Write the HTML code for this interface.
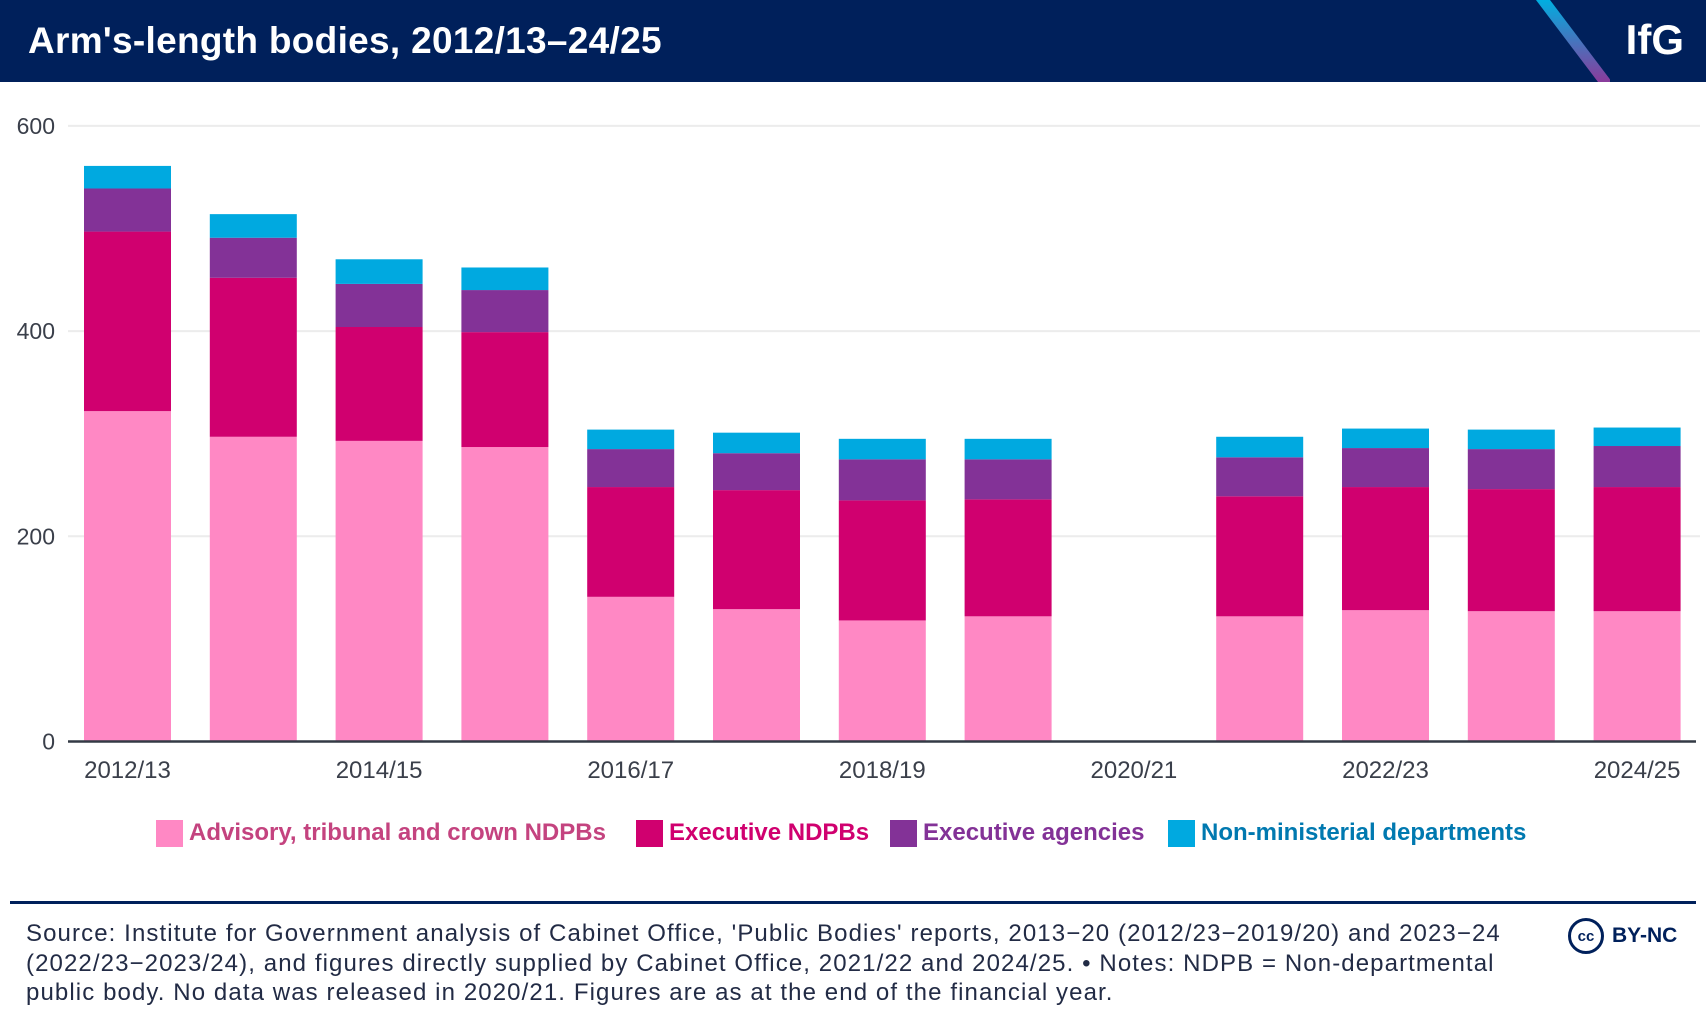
<!DOCTYPE html>
<html><head><meta charset="utf-8"><style>
body{margin:0;width:1706px;height:1024px;background:#fff;font-family:"Liberation Sans",sans-serif;overflow:hidden;position:relative}
.hdr{position:absolute;left:0;top:0;width:1706px;height:82px;background:#00205b}
.title{position:absolute;left:28px;top:20px;color:#fff;font-weight:bold;font-size:37px;letter-spacing:0.3px}
.logo{position:absolute;right:22px;top:16px;color:#fff;font-weight:bold;font-size:42px}
.sep{position:absolute;left:10px;top:901px;width:1686px;height:3px;background:#00205b}
.foot{position:absolute;left:26px;top:919px;font-size:24px;letter-spacing:1.1px;line-height:29.5px;color:#222b45;white-space:nowrap}
.lg{position:absolute;top:819px;height:28px;display:flex;align-items:center;font-weight:bold;font-size:24px}
.sw{width:27px;height:27px;margin-right:6px}
</style></head><body>
<div class="hdr"></div>
<div class="title">Arm's-length bodies, 2012/13–24/25</div>
<svg style="position:absolute;left:1530px;top:0" width="80" height="82"><defs><linearGradient id="g" x1="0" y1="0" x2="0" y2="1"><stop offset="0" stop-color="#00aee0"/><stop offset="1" stop-color="#8a3b9b"/></linearGradient></defs><polygon points="6,0 20,0 82,82 68,82" fill="url(#g)"/></svg>
<div class="logo">IfG</div>
<svg id="chart" style="position:absolute;left:0;top:0" width="1706" height="800"></svg>
<div class="lg" style="left:156px"><div class="sw" style="background:#ff88c4"></div><span style="color:#c4437f">Advisory, tribunal and crown NDPBs</span></div>
<div class="lg" style="left:636px"><div class="sw" style="background:#d0006f"></div><span style="color:#d0006f">Executive NDPBs</span></div>
<div class="lg" style="left:890px"><div class="sw" style="background:#833297"></div><span style="color:#833297">Executive agencies</span></div>
<div class="lg" style="left:1168px"><div class="sw" style="background:#00a9e0"></div><span style="color:#0079b0">Non-ministerial departments</span></div>
<div class="sep"></div>
<div class="foot">Source: Institute for Government analysis of Cabinet Office, 'Public Bodies' reports, 2013−20 (2012/23−2019/20) and 2023−24<br>(2022/23−2023/24), and figures directly supplied by Cabinet Office, 2021/22 and 2024/25. • Notes: NDPB = Non-departmental<br>public body. No data was released in 2020/21. Figures are as at the end of the financial year.</div>
<div style="position:absolute;left:1568px;top:918px;display:flex;align-items:center;gap:8px"><div style="width:36px;height:36px;border:3px solid #00205b;border-radius:50%;box-sizing:border-box;font-weight:bold;font-size:15px;color:#00205b;display:flex;align-items:center;justify-content:center">cc</div><span style="font-weight:bold;font-size:21px;color:#00205b">BY-NC</span></div>
<script>
const categories=["2012/13","2013/14","2014/15","2015/16","2016/17","2017/18","2018/19","2019/20","2020/21","2021/22","2022/23","2023/24","2024/25"];
const advisory=[322,297,293,287,141,129,118,122,null,122,128,127,127];
const executiveNdpbs=[175,155,111,112,107,116,117,114,null,117,120,119,121];
const executiveAgencies=[42,39,42,41,37,36,40,39,null,38,38,39,40];
const nonMinisterial=[22,23,24,22,19,20,20,20,null,20,19,19,18];
const yTicks=[0,200,400,600];
const xLabels=["2012/13","2014/15","2016/17","2018/19","2020/21","2022/23","2024/25"];
const svg=document.getElementById('chart');const NS="http://www.w3.org/2000/svg";
const y0=741.5,ppu=1.026;
function y(v){return y0-v*ppu;}
const step=125.8,bw=87,x0=84;
function x(i){return x0+i*step;}
function mk(t,a){const e=document.createElementNS(NS,t);for(const k in a)e.setAttribute(k,a[k]);svg.appendChild(e);return e;}
yTicks.forEach(t=>{
 if(t>0){const g=mk('line',{x1:68,x2:1700,y1:y(t),y2:y(t),stroke:'#ececec','stroke-width':2});
 
 }
 const l=mk('text',{x:55,y:y(t)+8,'text-anchor':'end','font-size':23,fill:'#3a3f4a','font-family':'Liberation Sans'});l.textContent=t;
 
 
});
const series=[[advisory,'#ff88c4','advisory'],[executiveNdpbs,'#d0006f','executive-ndpbs'],[executiveAgencies,'#833297','executive-agencies'],[nonMinisterial,'#00a9e0','non-ministerial']];
categories.forEach((c,i)=>{
 let base=0;
 series.forEach(([arr,col,nm])=>{
  const v=arr[i];if(v==null)return;
  const r=mk('rect',{x:x(i),y:y(base+v),width:bw,height:v*ppu,fill:col});
  
  
  base+=v;
 });
});
const ax=mk('line',{x1:68,x2:1696,y1:y0,y2:y0,stroke:'#333a45','stroke-width':2.5});


categories.forEach((c,i)=>{
 if(!xLabels.includes(c))return;
 const t=mk('text',{x:x(i)+bw/2,y:778,'text-anchor':'middle','font-size':24,fill:'#3a3f4a','font-family':'Liberation Sans'});t.textContent=c;
 
 
});
</script>
</body></html>
